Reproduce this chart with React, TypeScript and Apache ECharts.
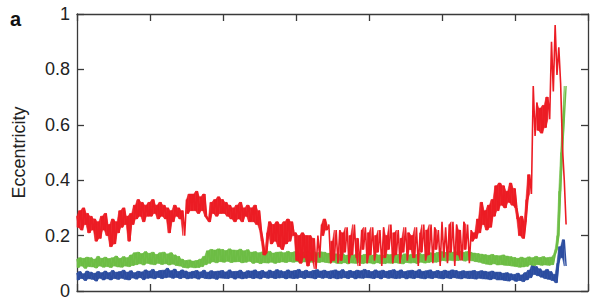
import React, { useEffect, useRef } from "react";
import * as echarts from "echarts";

// x step between consecutive samples (axis units; axis spans 0..7)
const STEP = 0.025;

const yTickLabels = ["0", "0.2", "0.4", "0.6", "0.8", "1"];

// Blue series: alternating local highs / lows
const blueValues: number[] = [
  0.065, 0.040, 0.070, 0.045, 0.062, 0.038, 0.072, 0.044,
  0.068, 0.042, 0.064, 0.036, 0.070, 0.046, 0.066, 0.040,
  0.072, 0.044, 0.066, 0.040, 0.074, 0.045, 0.068, 0.042,
  0.070, 0.046, 0.075, 0.042, 0.068, 0.040, 0.073, 0.047,
  0.066, 0.043, 0.071, 0.048, 0.069, 0.041, 0.076, 0.046,
  0.072, 0.047, 0.078, 0.044, 0.070, 0.049, 0.074, 0.045,
  0.075, 0.048, 0.082, 0.050, 0.073, 0.046, 0.079, 0.049,
  0.070, 0.045, 0.076, 0.048, 0.072, 0.044, 0.068, 0.046,
  0.071, 0.047, 0.074, 0.043, 0.069, 0.048, 0.075, 0.045,
  0.068, 0.044, 0.073, 0.046, 0.070, 0.042, 0.072, 0.047,
  0.074, 0.046, 0.069, 0.045, 0.076, 0.048, 0.070, 0.043,
  0.071, 0.047, 0.075, 0.044, 0.068, 0.046, 0.073, 0.048,
  0.072, 0.045, 0.076, 0.047, 0.070, 0.044, 0.074, 0.049,
  0.069, 0.046, 0.075, 0.048, 0.071, 0.045, 0.077, 0.047,
  0.073, 0.048, 0.070, 0.044, 0.076, 0.047, 0.072, 0.045,
  0.074, 0.046, 0.078, 0.049, 0.071, 0.045, 0.075, 0.048,
  0.070, 0.047, 0.074, 0.044, 0.077, 0.049, 0.072, 0.046,
  0.075, 0.048, 0.071, 0.045, 0.073, 0.047, 0.076, 0.044,
  0.072, 0.046, 0.077, 0.048, 0.070, 0.045, 0.074, 0.049,
  0.071, 0.044, 0.075, 0.047, 0.073, 0.046, 0.078, 0.048,
  0.074, 0.047, 0.070, 0.045, 0.076, 0.048, 0.072, 0.044,
  0.075, 0.049, 0.071, 0.046, 0.074, 0.047, 0.077, 0.045,
  0.072, 0.046, 0.076, 0.048, 0.070, 0.044, 0.073, 0.047,
  0.075, 0.045, 0.072, 0.048, 0.077, 0.046, 0.071, 0.044,
  0.073, 0.047, 0.076, 0.045, 0.070, 0.048, 0.074, 0.046,
  0.071, 0.044, 0.075, 0.047, 0.072, 0.045, 0.076, 0.048,
  0.074, 0.046, 0.070, 0.044, 0.073, 0.047, 0.071, 0.045,
  0.072, 0.045, 0.074, 0.043, 0.070, 0.046, 0.073, 0.044,
  0.071, 0.043, 0.069, 0.041, 0.072, 0.044, 0.068, 0.040,
  0.068, 0.040, 0.064, 0.038, 0.066, 0.036, 0.062, 0.040,
  0.060, 0.035, 0.064, 0.038, 0.058, 0.034, 0.066, 0.040,
  0.075, 0.048, 0.092, 0.060, 0.088, 0.055, 0.080, 0.050,
  0.072, 0.045, 0.078, 0.042, 0.070, 0.038, 0.060, 0.030,
  0.100, 0.160, 0.120, 0.185, 0.090,
];

// Green series
const greenValues: number[] = [
  0.115, 0.085, 0.120, 0.090, 0.118, 0.082, 0.122, 0.088,
  0.120, 0.087, 0.115, 0.083, 0.125, 0.090, 0.118, 0.086,
  0.122, 0.088, 0.117, 0.085, 0.120, 0.090, 0.126, 0.087,
  0.118, 0.086, 0.124, 0.090, 0.120, 0.088, 0.130, 0.092,
  0.138, 0.095, 0.140, 0.098, 0.135, 0.094, 0.142, 0.100,
  0.136, 0.097, 0.140, 0.095, 0.132, 0.100, 0.138, 0.096,
  0.140, 0.098, 0.134, 0.094, 0.138, 0.097, 0.130, 0.092,
  0.125, 0.090, 0.115, 0.085, 0.110, 0.083, 0.112, 0.086,
  0.108, 0.084, 0.110, 0.085, 0.115, 0.088, 0.125, 0.095,
  0.145, 0.100, 0.150, 0.105, 0.148, 0.102, 0.152, 0.106,
  0.150, 0.104, 0.146, 0.107, 0.152, 0.103, 0.148, 0.105,
  0.147, 0.106, 0.151, 0.102, 0.145, 0.104, 0.149, 0.107,
  0.140, 0.100, 0.142, 0.103, 0.138, 0.099, 0.141, 0.102,
  0.139, 0.101, 0.143, 0.104, 0.137, 0.100, 0.140, 0.103,
  0.141, 0.105, 0.138, 0.103, 0.143, 0.106, 0.139, 0.104,
  0.142, 0.106, 0.137, 0.102, 0.140, 0.105, 0.144, 0.107,
  0.139, 0.104, 0.142, 0.106, 0.138, 0.103, 0.141, 0.105,
  0.140, 0.103, 0.136, 0.101, 0.138, 0.104, 0.134, 0.100,
  0.131, 0.099, 0.134, 0.102, 0.129, 0.098, 0.133, 0.101,
  0.130, 0.100, 0.135, 0.102, 0.128, 0.099, 0.132, 0.101,
  0.134, 0.101, 0.129, 0.098, 0.133, 0.102, 0.130, 0.099,
  0.128, 0.099, 0.133, 0.101, 0.131, 0.100, 0.135, 0.102,
  0.132, 0.100, 0.129, 0.098, 0.134, 0.103, 0.130, 0.101,
  0.133, 0.102, 0.131, 0.099, 0.136, 0.104, 0.132, 0.101,
  0.134, 0.103, 0.138, 0.105, 0.135, 0.104, 0.139, 0.106,
  0.142, 0.110, 0.139, 0.108, 0.143, 0.111, 0.140, 0.109,
  0.141, 0.110, 0.144, 0.112, 0.139, 0.108, 0.142, 0.111,
  0.140, 0.109, 0.137, 0.106, 0.135, 0.104, 0.133, 0.100,
  0.131, 0.097, 0.129, 0.095, 0.132, 0.098, 0.128, 0.094,
  0.127, 0.095, 0.130, 0.093, 0.126, 0.092, 0.124, 0.090,
  0.121, 0.088, 0.118, 0.086, 0.122, 0.087, 0.119, 0.089,
  0.123, 0.094, 0.120, 0.092, 0.125, 0.095, 0.121, 0.093,
  0.124, 0.094, 0.120, 0.093, 0.122, 0.095, 0.130, 0.150,
  0.200, 0.360, 0.500, 0.620, 0.740,
];

// Red series
const redValues: number[] = [
  0.27, 0.23, 0.29, 0.22, 0.30, 0.24, 0.28, 0.21,
  0.27, 0.22, 0.26, 0.18, 0.25, 0.19, 0.27, 0.22,
  0.28, 0.20, 0.24, 0.16, 0.26, 0.17, 0.25, 0.21,
  0.29, 0.23, 0.30, 0.24, 0.27, 0.18, 0.28, 0.24,
  0.31, 0.26, 0.33, 0.27, 0.32, 0.25, 0.31, 0.27,
  0.32, 0.27, 0.33, 0.28, 0.31, 0.26, 0.32, 0.27,
  0.31, 0.26, 0.30, 0.21, 0.29, 0.25, 0.31, 0.27,
  0.30, 0.26, 0.29, 0.20, 0.33, 0.28, 0.35, 0.29,
  0.35, 0.29, 0.36, 0.28, 0.34, 0.29, 0.35, 0.27,
  0.26, 0.25, 0.32, 0.28, 0.33, 0.27, 0.34, 0.28,
  0.33, 0.28, 0.32, 0.27, 0.31, 0.26, 0.30, 0.25,
  0.31, 0.26, 0.32, 0.25, 0.30, 0.27, 0.31, 0.25,
  0.30, 0.25, 0.31, 0.24, 0.29, 0.22, 0.18, 0.13,
  0.14, 0.21, 0.25, 0.17, 0.24, 0.18, 0.25, 0.16,
  0.24, 0.15, 0.25, 0.17, 0.26, 0.18, 0.25, 0.20,
  0.21, 0.11, 0.20, 0.10, 0.21, 0.12, 0.20, 0.09,
  0.20, 0.11, 0.19, 0.08, 0.20, 0.12, 0.24, 0.20,
  0.26, 0.22, 0.24, 0.10, 0.18, 0.11, 0.22, 0.10,
  0.22, 0.11, 0.21, 0.14, 0.23, 0.10, 0.20, 0.13,
  0.24, 0.12, 0.19, 0.09, 0.22, 0.15, 0.23, 0.10,
  0.21, 0.13, 0.23, 0.11, 0.20, 0.14, 0.22, 0.09,
  0.23, 0.12, 0.20, 0.15, 0.24, 0.10, 0.21, 0.13,
  0.22, 0.10, 0.19, 0.14, 0.23, 0.11, 0.21, 0.15,
  0.20, 0.12, 0.23, 0.09, 0.21, 0.14, 0.24, 0.11,
  0.22, 0.13, 0.24, 0.10, 0.23, 0.15, 0.22, 0.09,
  0.25, 0.12, 0.23, 0.10, 0.24, 0.14, 0.25, 0.09,
  0.24, 0.13, 0.22, 0.11, 0.25, 0.15, 0.24, 0.10,
  0.22, 0.18, 0.21, 0.19, 0.26, 0.21, 0.32, 0.24,
  0.29, 0.22, 0.31, 0.23, 0.33, 0.27, 0.38, 0.29,
  0.39, 0.31, 0.38, 0.30, 0.36, 0.32, 0.39, 0.31,
  0.37, 0.30, 0.26, 0.20, 0.27, 0.19, 0.25, 0.33,
  0.42, 0.35, 0.74, 0.56, 0.68, 0.58, 0.66, 0.57,
  0.67, 0.59, 0.70, 0.62, 0.90, 0.72, 0.96, 0.78,
  0.88, 0.75, 0.52, 0.40, 0.24,
];

const toPoints = (vals: number[]) => vals.map((v, i) => [i * STEP, v]);

// Band segments that fill the space swept by the noisy trace between
// consecutive samples; spans wider than maxSpan are left open (spiky parts).
const bandSegments = (vals: number[], maxSpan: number) => {
  const env = vals.slice(0, -1).map((v, i) => {
    const lo = Math.min(v, vals[i + 1]);
    const hi = Math.max(v, vals[i + 1]);
    return { x: i * STEP, lo, hi, ok: hi - lo <= maxSpan };
  });
  const segs: number[][] = [];
  for (let i = 0; i < env.length - 1; i++) {
    const a = env[i];
    const b = env[i + 1];
    if (a.ok && b.ok) segs.push([a.x, a.lo, a.hi, b.x, b.lo, b.hi]);
  }
  return segs;
};

export default function App() {
  const ref = useRef<HTMLDivElement>(null);
  useEffect(() => {
    if (!ref.current) return;
    const chart = echarts.init(ref.current, undefined, { renderer: "svg" });
    const axisColor = "#3a3a3a";
    const font = "Liberation Sans, Arial, Helvetica, sans-serif";
    const xCommon = {
      type: "value" as const,
      min: 0,
      max: 7,
      interval: 1,
      axisLine: { show: true, onZero: false, lineStyle: { color: axisColor, width: 1.3 } },
      axisTick: { show: true, inside: true, length: 7, lineStyle: { color: axisColor, width: 1.3 } },
      axisLabel: { show: false },
      splitLine: { show: false },
    };
    const yCommon = {
      type: "value" as const,
      min: 0,
      max: 1,
      interval: 0.2,
      axisLine: { show: true, onZero: false, lineStyle: { color: axisColor, width: 1.3 } },
      axisTick: { show: true, inside: true, length: 7, lineStyle: { color: axisColor, width: 1.3 } },
      splitLine: { show: false },
    };
    const lineSeries = (vals: number[], color: string, width: number, z: number) => ({
      type: "line",
      data: toPoints(vals),
      showSymbol: false,
      symbol: "none",
      silent: true,
      lineStyle: { color, width },
      z,
    });
    const bandSeries = (vals: number[], maxSpan: number, color: string, z: number) => ({
      type: "custom",
      silent: true,
      z,
      data: bandSegments(vals, maxSpan),
      encode: { x: [0, 3], y: [1, 2, 4, 5] },
      renderItem: (_params: any, api: any) => {
        const a1 = api.coord([api.value(0), api.value(2)]);
        const b1 = api.coord([api.value(3), api.value(5)]);
        const b0 = api.coord([api.value(3), api.value(4)]);
        const a0 = api.coord([api.value(0), api.value(1)]);
        return {
          type: "polygon",
          shape: { points: [a1, b1, b0, a0] },
          style: { fill: color, stroke: color, lineWidth: 0.6 },
        };
      },
    });
    const blue = "#2c4da0";
    const green = "#6dbd45";
    const red = "#ec1c24";
    chart.setOption({
      animation: false,
      backgroundColor: "#ffffff",
      grid: { left: 77, right: 17, top: 14, bottom: 12, containLabel: false },
      xAxis: [
        { ...xCommon, position: "bottom" },
        { ...xCommon, position: "top" },
      ],
      yAxis: [
        {
          ...yCommon,
          position: "left",
          name: "Eccentricity",
          nameLocation: "middle",
          nameGap: 49,
          nameTextStyle: { fontSize: 18, color: "#222", fontFamily: font },
          axisLabel: {
            show: true,
            fontSize: 18,
            color: "#222",
            fontFamily: font,
            margin: 7,
            formatter: (v: number) => yTickLabels[Math.round(v * 5)] ?? String(v),
          },
        },
        { ...yCommon, position: "right", axisLabel: { show: false } },
      ],
      graphic: [
        {
          type: "text",
          left: 10,
          top: 9,
          style: { text: "a", fontSize: 20, fontWeight: "bold", fill: "#111", fontFamily: font },
        },
      ],
      series: [
        bandSeries(blueValues, 1, blue, 2),
        lineSeries(blueValues, blue, 1.4, 2),
        bandSeries(greenValues, 1, green, 3),
        lineSeries(greenValues, green, 1.4, 3),
        bandSeries(redValues, 0.115, red, 4),
        lineSeries(redValues, red, 1.6, 4),
      ],
    });
    return () => chart.dispose();
  }, []);
  return (
    <div
      ref={ref}
      style={{ position: "fixed", left: 0, top: 0, width: 605, height: 303 }}
    />
  );
}
